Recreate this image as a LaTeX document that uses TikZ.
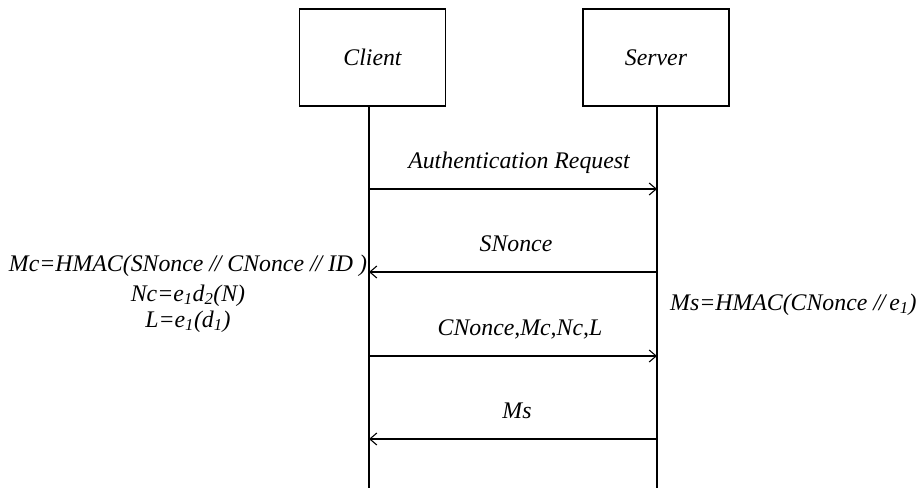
\documentclass[tikz,border=0pt]{standalone}
\usepackage{fontspec}
\setmainfont{Liberation Serif}
\usetikzlibrary{arrows.meta}
\newcommand{\dslash}{/\kern-0.05em/}
\begin{document}
\begin{tikzpicture}[x=1pt,y=-1pt,
  every node/.style={font=\fontsize{23.8}{27}\selectfont\itshape, inner sep=0pt},
  actor/.style={draw, line width=1.3pt, minimum width=146pt, minimum height=97pt},
  life/.style={line width=1.3pt},
  msg/.style={line width=1.3pt, -{Straight Barb[length=7pt,width=12pt,line width=1.1pt]}},
  lbl/.style={anchor=base}]
\useasboundingbox (0,0) rectangle (918,488);
\node[actor] (client) at (372.5,57.5) {};
\node[lbl] at (372.5,65) {Client};
\node[actor] (server) at (656,57.5) {};
\node[lbl] at (656,65) {Server};
\coordinate (cb) at (369,105.5);
\coordinate (sb) at (657,105.5);
\coordinate (ce) at (369,488);
\coordinate (se) at (657,488);
\draw[life] (cb) -- (ce);
\draw[life] (sb) -- (se);
\coordinate (c1) at (369,189); \coordinate (s1) at (657,189);
\coordinate (c2) at (369,272); \coordinate (s2) at (657,272);
\coordinate (c3) at (369,356); \coordinate (s3) at (657,356);
\coordinate (c4) at (369,439); \coordinate (s4) at (657,439);
\draw[msg] (c1) -- (s1);
\draw[msg] (s2) -- (c2);
\draw[msg] (c3) -- (s3);
\draw[msg] (s4) -- (c4);
\node[lbl] (m1) at (519,168) {Authentication Request};
\node[lbl] (m2) at (516,251) {SNonce};
\node[lbl] (m3) at (520,335) {CNonce,Mc,Nc,L};
\node[lbl] (m4) at (517,418) {Ms};
\node[lbl] (t1) at (188,271) {Mc=HMAC(SNonce \dslash\ CNonce \dslash\ ID )};
\node[lbl] (t2) at (188,301) {Nc=e\textsubscript{1}d\textsubscript{2}(N)};
\node[lbl] (t3) at (188,327) {L=e\textsubscript{1}(d\textsubscript{1})};
\node[lbl,anchor=base west] (t4) at (670,310) {Ms=HMAC(CNonce \dslash\,e\textsubscript{1})};
\end{tikzpicture}
\end{document}
